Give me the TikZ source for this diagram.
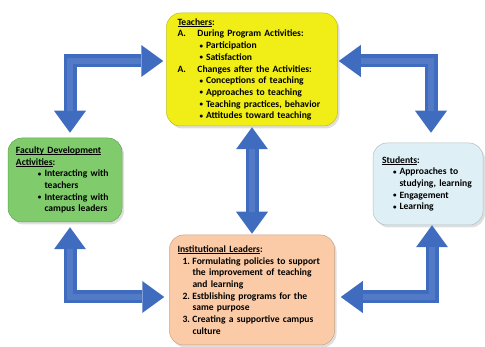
\documentclass[tikz,border=0pt]{standalone}
\usepackage{fontspec}
\setmainfont{Carlito}
\usepackage{tikz}
\usetikzlibrary{arrows.meta, shadows}

\definecolor{teachyellow}{RGB}{240,238,22}
\definecolor{facgreen}{RGB}{128,204,108}
\definecolor{stublue}{RGB}{222,239,245}
\definecolor{instpeach}{RGB}{250,203,166}
\definecolor{arrowblue}{RGB}{64,108,192}

\newcommand{\blt}{\makebox[6.5pt][l]{\raisebox{0.6pt}{\fontsize{7}{7}\selectfont\textbullet}}}
\newcommand{\lbl}[1]{\makebox[20pt][l]{#1}}
\newcommand{\num}[1]{\hspace*{5pt}\makebox[10pt][l]{#1}}
\newcommand{\ul}[1]{\leavevmode\setbox0\hbox{#1}\rlap{\rule[-1.4pt]{\wd0}{0.6pt}}\box0}

\begin{document}
\begin{tikzpicture}[
    x=1pt, y=-1pt,
    box/.style={rectangle, rounded corners=14pt, draw=#1!80!black, line width=0.5pt, fill=#1,
        align=left, font=\fontsize{9.6}{11.7}\selectfont\bfseries,
        drop shadow={shadow xshift=2pt, shadow yshift=-2.5pt, opacity=0.25}},
    blockarrow/.style={{Triangle[width=32pt, length=22pt, line width=0pt]}-{Triangle[width=32pt, length=22pt, line width=0pt]},
        draw=arrowblue, line width=13pt},
    shine/.style={draw=white, opacity=0.1, line width=6pt, shorten <=22pt, shorten >=22pt}
]
    \useasboundingbox (0,0) rectangle (485,347);

    % === Boxes ===
    \node[box=teachyellow, text width=149pt, inner xsep=11pt, minimum height=113pt] (teach) at (252,69.5) {%
        \ul{Teachers}:\\
        \lbl{A.}During Program Activities:\\
        \hspace*{22pt}\blt Participation\\
        \hspace*{22pt}\blt Satisfaction\\
        \lbl{A.}Changes after the Activities:\\
        \hspace*{22pt}\blt Conceptions of teaching\\
        \hspace*{22pt}\blt Approaches to teaching\\
        \hspace*{22pt}\blt Teaching practices, behavior\\
        \hspace*{22pt}\blt Attitudes toward teaching};

    \node[box=facgreen, text width=98pt, inner xsep=8pt, minimum height=84pt] (fac) at (65,180) {%
        \ul{Faculty Development}\\
        \ul{Activities}:\\
        \hspace*{22pt}\blt Interacting with\\
        \hspace*{28.5pt}teachers\\
        \hspace*{22pt}\blt Interacting with\\
        \hspace*{28.5pt}campus leaders};

    \node[box=stublue, text width=92pt, inner xsep=9pt, minimum height=82pt] (stu) at (428,184) {%
        \ul{Students}:\\
        \hspace*{11pt}\blt Approaches to\\
        \mbox{\hspace*{17.5pt}studying, learning}\\
        \hspace*{11pt}\blt Engagement\\
        \hspace*{11pt}\blt Learning};

    \node[box=instpeach, text width=149pt, inner xsep=8pt, minimum height=110pt] (inst) at (252,290) {%
        \ul{Institutional Leaders}:\\
        \num{1.}Formulating policies to support\\
        \hspace*{15pt}the improvement of teaching\\
        \hspace*{15pt}and learning\\
        \num{2.}Estblishing programs for the\\
        \hspace*{15pt}same purpose\\
        \num{3.}Creating a supportive campus\\
        \hspace*{15pt}culture};

    % === Arrows ===
    % top left
    \draw[blockarrow] ([xshift=5pt, yshift=5pt]fac.north) |- ([xshift=-3pt, yshift=8.5pt]teach.west);
    \draw[shine] ([xshift=5pt, yshift=5pt]fac.north) |- ([xshift=-3pt, yshift=8.5pt]teach.west);
    % top right
    \draw[blockarrow] ([xshift=3pt, yshift=10pt]stu.north) |- ([xshift=1pt, yshift=8.5pt]teach.east);
    \draw[shine] ([xshift=3pt, yshift=10pt]stu.north) |- ([xshift=1pt, yshift=8.5pt]teach.east);
    % bottom left
    \draw[blockarrow] ([xshift=5pt, yshift=-5pt]fac.south) |- ([xshift=-5pt, yshift=-7pt]inst.west);
    \draw[shine] ([xshift=5pt, yshift=-5pt]fac.south) |- ([xshift=-5pt, yshift=-7pt]inst.west);
    % bottom right
    \draw[blockarrow] ([xshift=4pt]stu.south) |- ([xshift=6pt, yshift=-7pt]inst.east);
    \draw[shine] ([xshift=4pt]stu.south) |- ([xshift=6pt, yshift=-7pt]inst.east);
    % middle
    \draw[blockarrow] ([yshift=-1pt]teach.south) -- ([yshift=1pt]inst.north);
    \draw[shine] ([yshift=-1pt]teach.south) -- ([yshift=1pt]inst.north);

\end{tikzpicture}
\end{document}
